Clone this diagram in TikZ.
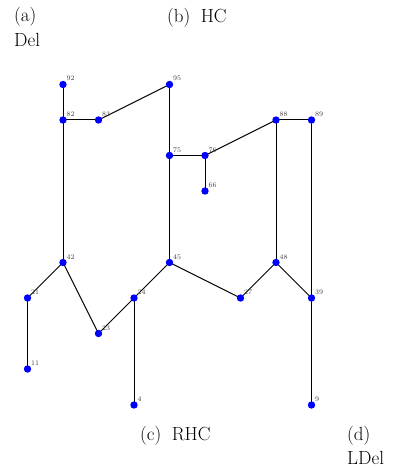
\documentclass[tikz,border=0pt]{standalone}
\begin{document}
\begin{tikzpicture}[x=1pt,y=-1pt,
  dot/.style={circle,fill={rgb,255:red,0;green,0;blue,255},inner sep=0pt,minimum size=7.4pt},
  lbl/.style={font=\fontsize{7}{8}\selectfont,text={rgb,255:red,60;green,60;blue,60},inner sep=0pt,anchor=base west},
  captext/.style={font=\fontsize{19}{21}\selectfont,inner sep=0pt,anchor=base west},
  edge/.style={draw=black,line width=1pt}]
\useasboundingbox (0,0) rectangle (399,468);
\foreach \n/\x/\y in {92/63/84.5, 95/169.5/84.5, 82/63/120, 83/98.5/120, 88/276/120, 89/311.5/120,
  75/169.5/155.5, 76/205/155.5, 66/205/191, 42/63/262.5, 45/169.5/262.5, 48/276/262.5,
  21/27.5/298, 24/134/298, 27/240.5/298, 39/311.5/298, 23/98.5/333.5, 11/27.5/369, 4/134/405, 9/311.5/405}
  {\coordinate (n\n) at (\x,\y);}
\foreach \a/\b in {92/82, 82/83, 83/95, 95/75, 75/76, 76/88, 76/66, 88/89, 88/48, 89/39,
  82/42, 42/21, 42/23, 21/11, 23/24, 24/45, 24/4, 45/75, 45/27, 27/48, 48/39, 39/9}
  {\draw[edge] (n\a) -- (n\b);}
\foreach \n in {92,95,82,83,88,89,75,76,66,42,45,48,21,24,27,39,23,11,4,9}
  {\node[dot] (d\n) at (n\n) {};
   \node[lbl] (l\n) at ([shift={(3.5,-3.5)}]n\n) {\n};}
\node[captext] (ta) at (14,22) {(a)};
\node[captext] (tdel) at (14,47) {Del};
\node[captext] (tb) at (167,23) {(b)\hspace{0.55em}HC};
\node[captext] (tc) at (140,440) {(c)\hspace{0.55em}RHC};
\node[captext] (td) at (347,440) {(d)};
\node[captext] (tldel) at (347,464) {LDel};
\end{tikzpicture}
\end{document}
